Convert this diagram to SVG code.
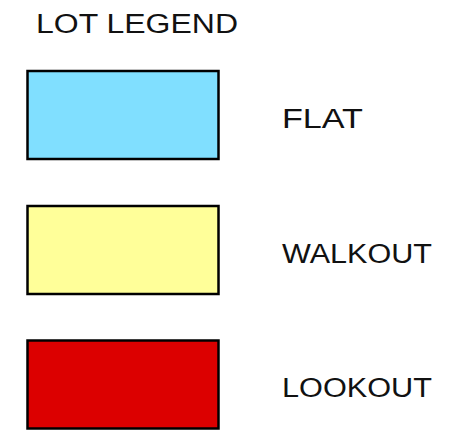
<svg xmlns="http://www.w3.org/2000/svg" width="458" height="433" viewBox="0 0 458 433">
<style>
.box{stroke:#000;stroke-width:2.5}
.lbl{font-family:"Liberation Sans",Arial,sans-serif;font-size:27px;fill:#111}
</style>
<rect width="458" height="433" fill="#fff"/>
<text class="lbl" x="36" y="33" textLength="202" lengthAdjust="spacingAndGlyphs">LOT LEGEND</text>
<g id="flat">
<rect class="box" x="27.5" y="71" width="191" height="88" fill="#80dfff"/>
<text class="lbl" x="282" y="128" textLength="81" lengthAdjust="spacingAndGlyphs">FLAT</text>
</g>
<g id="walkout">
<rect class="box" x="27.5" y="206" width="191" height="88" fill="#ffff99"/>
<text class="lbl" x="282" y="263" textLength="150" lengthAdjust="spacingAndGlyphs">WALKOUT</text>
</g>
<g id="lookout">
<rect class="box" x="27.5" y="340.5" width="191" height="88" fill="#dc0000"/>
<text class="lbl" x="282" y="397" textLength="150" lengthAdjust="spacingAndGlyphs">LOOKOUT</text>
</g>
<g id="connectors"/>
</svg>
